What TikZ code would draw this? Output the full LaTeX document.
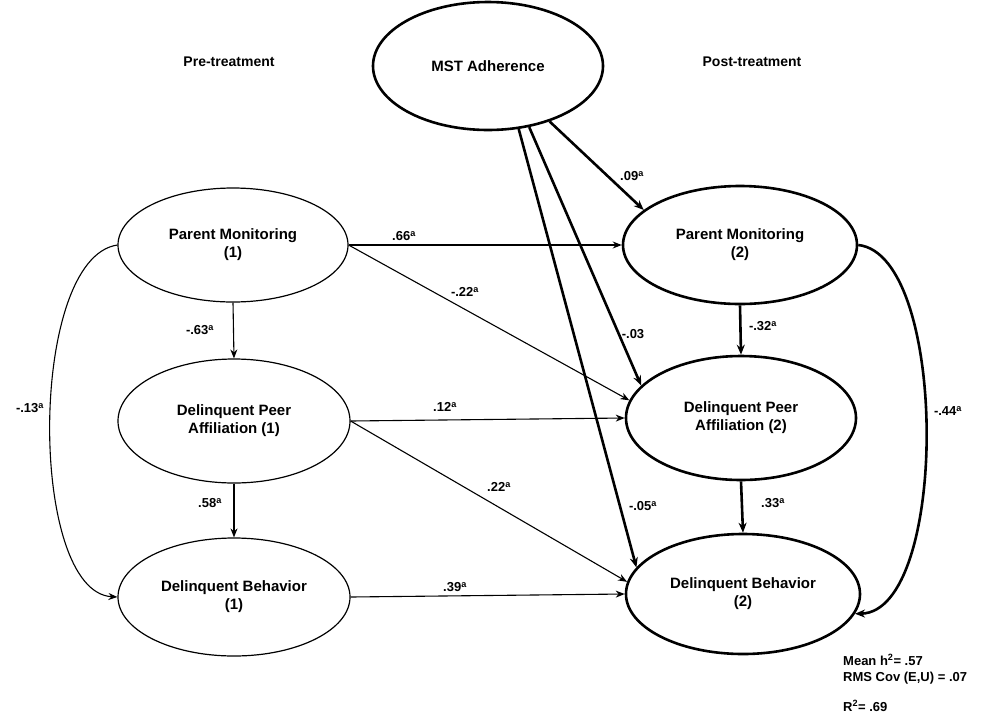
\documentclass[tikz,border=0pt]{standalone}
\usepackage{fontspec}
\setmainfont{Liberation Sans}
\usetikzlibrary{shapes.geometric,arrows.meta}
\begin{document}
\begin{tikzpicture}[x=1pt,y=-1pt,
  lv/.style={ellipse, draw, line width=1.2pt, inner sep=0pt, align=center, font=\bfseries\fontsize{15}{18}\selectfont},
  lvb/.style={lv, line width=2.6pt},
  thinarr/.style={line width=1.1pt, -{Stealth[length=9pt,width=7pt]}},
  thickarr/.style={line width=2.6pt, -{Stealth[length=10pt,width=8pt]}},
  lab/.style={font=\bfseries\fontsize{13}{15}\selectfont, inner sep=1pt},
  hdr/.style={font=\bfseries\fontsize{14}{16}\selectfont, inner sep=0pt},
  note/.style={font=\bfseries\fontsize{13}{15}\selectfont, inner sep=0pt, anchor=west}
]
\useasboundingbox (0,0) rectangle (988,716);

% headers
\node[hdr] (pre) at (229,62) {Pre-treatment};
\node[hdr] (post) at (752,62) {Post-treatment};

% latent variables
\node[lvb, minimum width=230pt, minimum height=128pt] (mst) at (488,66) {MST Adherence};
\node[lv, minimum width=230pt, minimum height=114pt] (pm1) at (233,245) {Parent Monitoring\\(1)};
\node[lv, minimum width=232pt, minimum height=124pt] (dpa1) at (234,421) {Delinquent Peer\\Affiliation (1)};
\node[lv, minimum width=232pt, minimum height=118pt] (db1) at (234,597) {Delinquent Behavior\\(1)};
\node[lvb, minimum width=234pt, minimum height=118pt] (pm2) at (740,245) {Parent Monitoring\\(2)};
\node[lvb, minimum width=230pt, minimum height=124pt] (dpa2) at (741,418) {Delinquent Peer\\Affiliation (2)};
\node[lvb, minimum width=234pt, minimum height=120pt] (db2) at (743,594) {Delinquent Behavior\\(2)};

% pre-treatment paths
\draw[thinarr] (pm1.south) -- (dpa1.north);
\draw[thinarr] (dpa1.south) -- (db1.north);
\draw[thinarr] (pm1.west) .. controls (28,258) and (28,592) .. (db1.west);

% cross-lagged paths
\draw[thinarr] (pm1.east) -- (pm2.west);
\draw[thinarr] (pm1.east) -- (dpa2.171);
\draw[thinarr] (dpa1.east) -- (dpa2.west);
\draw[thinarr] (dpa1.east) -- (db2.174);
\draw[thinarr] (db1.east) -- (db2.west);

% MST paths
\draw[thickarr] (mst.318) -- (pm2.160);
\draw[thickarr] (mst.304) -- (dpa2.162);
\draw[thickarr] (mst.296) -- (db2.166);

% post-treatment paths
\draw[thickarr] (pm2.south) -- (dpa2.north);
\draw[thickarr] (dpa2.south) -- (db2.north);
\draw[thickarr] (pm2.east) .. controls (949,255) and (949,612) .. (db2.-10);

% labels
\node[lab] (l66) at (404,236) {.66\textsuperscript{a}};
\node[lab] (l22a) at (465,292) {-.22\textsuperscript{a}};
\node[lab] (l63) at (200,330) {-.63\textsuperscript{a}};
\node[lab] (l58) at (210,503) {.58\textsuperscript{a}};
\node[lab] (l13) at (30,408) {-.13\textsuperscript{a}};
\node[lab] (l12) at (445,407) {.12\textsuperscript{a}};
\node[lab] (l22b) at (499,487) {.22\textsuperscript{a}};
\node[lab] (l39) at (455,587) {.39\textsuperscript{a}};
\node[lab] (l09) at (632,176) {.09\textsuperscript{a}};
\node[lab] (l03) at (633,334) {-.03};
\node[lab] (l05) at (643,506) {-.05\textsuperscript{a}};
\node[lab] (l32) at (763,326) {-.32\textsuperscript{a}};
\node[lab] (l33) at (773,503) {.33\textsuperscript{a}};
\node[lab] (l44) at (948,411) {-.44\textsuperscript{a}};

% fit notes
\node[note] (n1) at (843,660) {Mean h\textsuperscript{2}= .57};
\node[note] (n2) at (843,678) {RMS Cov (E,U) = .07};
\node[note] (n3) at (843,706) {R\textsuperscript{2}= .69};
\end{tikzpicture}
\end{document}
